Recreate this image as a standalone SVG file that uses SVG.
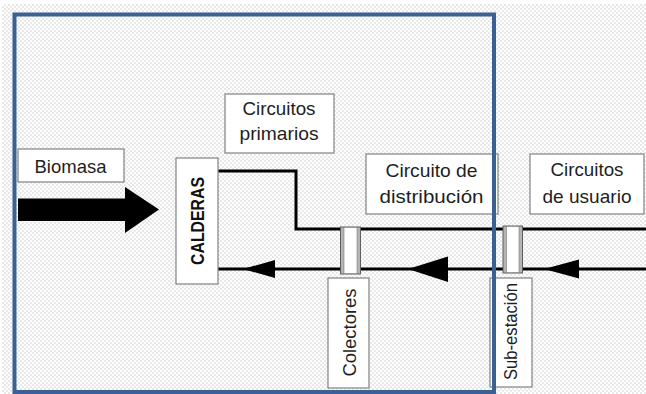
<svg xmlns="http://www.w3.org/2000/svg" width="646" height="394" viewBox="0 0 646 394">
  <defs>
    <pattern id="dots" x="0" y="0" width="4" height="4" patternUnits="userSpaceOnUse">
      <circle cx="1" cy="1" r="0.75" fill="#c4c4c4"/>
      <circle cx="3" cy="3" r="0.75" fill="#c4c4c4"/>
    </pattern>
  </defs>
  <style>
    .box { fill: #ffffff; stroke: #8a8a8a; stroke-width: 1.3; }
    .lbl { font-family: "Liberation Sans", Arial, sans-serif; font-size: 19px; fill: #1e1e1e; text-anchor: middle; }
    .bold { font-weight: bold; fill: #111111; }
    .pipe { fill: none; stroke: #000000; stroke-width: 3; }
    .head { fill: #000000; }
    .valve { fill: #b4b4b4; stroke: #5e5e5e; stroke-width: 1; }
    .valve-in { fill: #ffffff; stroke: #7a7a7a; stroke-width: 0.6; }
    .frame { fill: none; stroke: #3b6194; stroke-width: 4; }
  </style>

  <!-- stippled backdrop -->
  <rect x="0" y="0" width="646" height="394" fill="#ffffff"/>
  <rect x="2" y="4" width="644" height="390" fill="url(#dots)"/>

  <!-- pipes and flow arrows -->
  <g id="connectors">
    <path class="pipe" d="M218,171 H296 V229 H646"/>
    <path class="pipe" d="M218,269 H646"/>
    <polygon class="head" points="243,269 275,260 275,278"/>
    <polygon class="head" points="408,269 448,256.5 448,282"/>
    <polygon class="head" points="544,269 579,259.5 579,278.5"/>
    <!-- biomass feed arrow -->
    <polygon class="head" points="18,198.5 125,198.5 125,187 159,209.5 125,233 125,221 18,221"/>
  </g>

  <g id="biomasa">
    <rect class="box" x="18" y="149" width="106" height="33"/>
    <text class="lbl" x="70.5" y="172.5" textLength="72" lengthAdjust="spacingAndGlyphs">Biomasa</text>
  </g>

  <g id="calderas">
    <rect class="box" x="176" y="158" width="42" height="126"/>
    <text class="lbl bold" transform="translate(203.5,221) rotate(-90)" x="0" y="0" font-size="21" textLength="88" lengthAdjust="spacingAndGlyphs">CALDERAS</text>
  </g>

  <g id="circuitos-primarios">
    <rect class="box" x="225" y="94" width="109" height="59"/>
    <text class="lbl" x="279" y="115" textLength="73" lengthAdjust="spacingAndGlyphs">Circuitos</text>
    <text class="lbl" x="279" y="140" textLength="79" lengthAdjust="spacingAndGlyphs">primarios</text>
  </g>

  <g id="circuito-distribucion">
    <rect class="box" x="366" y="154" width="132" height="60"/>
    <text class="lbl" x="431.5" y="176.5" textLength="92" lengthAdjust="spacingAndGlyphs">Circuito de</text>
    <text class="lbl" x="431.5" y="202.5" textLength="104" lengthAdjust="spacingAndGlyphs">distribución</text>
  </g>

  <g id="circuitos-usuario">
    <rect class="box" x="530" y="154" width="114" height="60"/>
    <text class="lbl" x="587" y="176" textLength="73" lengthAdjust="spacingAndGlyphs">Circuitos</text>
    <text class="lbl" x="587" y="202.5" textLength="89" lengthAdjust="spacingAndGlyphs">de usuario</text>
  </g>

  <g id="colectores">
    <rect class="valve" x="340.5" y="227" width="20" height="47"/>
    <rect class="valve-in" x="344" y="227.5" width="13" height="46"/>
    <rect class="box" x="328" y="278" width="41" height="110"/>
    <text class="lbl" transform="translate(355.5,332.5) rotate(-90)" x="0" y="0" textLength="88" lengthAdjust="spacingAndGlyphs">Colectores</text>
  </g>

  <g id="sub-estacion">
    <rect class="valve" x="503" y="226" width="19.5" height="47"/>
    <rect class="valve-in" x="506.5" y="226.5" width="12.5" height="46"/>
    <rect class="box" x="490" y="278" width="42" height="109"/>
    <text class="lbl" transform="translate(517,331.5) rotate(-90)" x="0" y="0" font-size="18" textLength="97" lengthAdjust="spacingAndGlyphs">Sub-estación</text>
  </g>

  <!-- plant boundary -->
  <rect class="frame" x="14.5" y="14.5" width="479.5" height="377.5"/>
</svg>
